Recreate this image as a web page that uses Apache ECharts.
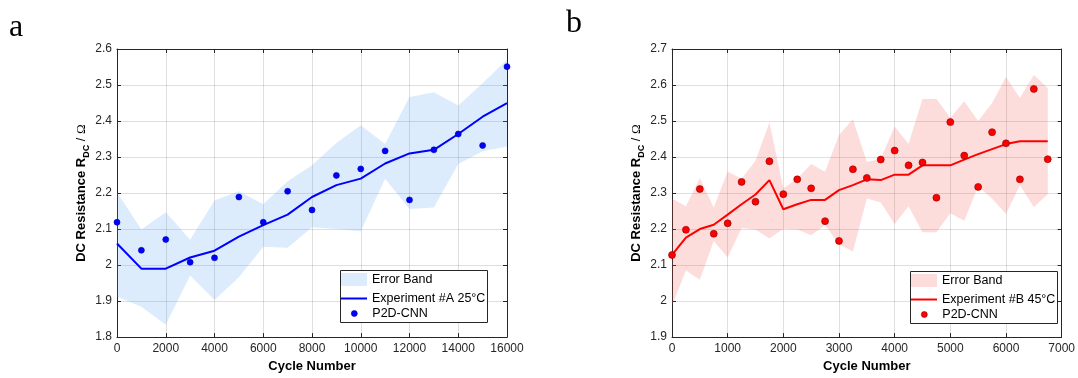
<!DOCTYPE html>
<html>
<head>
<meta charset="utf-8">
<script src="https://cdn.jsdelivr.net/npm/echarts@6/dist/echarts.min.js"></script>
<style>html,body{margin:0;padding:0;background:#fff;}#c{width:1078px;height:378px;}</style>
</head>
<body>
<div id="c"></div>
<script>
// ---- Panel a: Experiment #A 25°C ----
const cyclesA = [0,1000,2000,3000,4000,5000,6000,7000,8000,9000,10000,11000,12000,13000,14000,15000,16000];
const expA    = [2.06,1.99,1.99,2.021,2.04,2.079,2.111,2.14,2.189,2.222,2.24,2.282,2.31,2.32,2.364,2.412,2.45];
const cnnA    = [2.119,2.041,2.071,2.008,2.02,2.189,2.119,2.205,2.153,2.249,2.267,2.317,2.181,2.32,2.364,2.332,2.551];
const bandUpA = [2.202,2.099,2.147,2.07,2.179,2.205,2.169,2.233,2.277,2.339,2.388,2.336,2.467,2.48,2.443,2.505,2.571];
const bandLoA = [1.913,1.884,1.834,1.971,1.903,1.966,2.051,2.048,2.105,2.10,2.094,2.24,2.156,2.16,2.281,2.316,2.329];

// ---- Panel b: Experiment #B 45°C ----
const cyclesB = [0,250,500,750,1000,1250,1500,1750,2000,2250,2500,2750,3000,3250,3500,3750,4000,4250,4500,4750,5000,5250,5500,5750,6000,6250,6500,6750];
const expB    = [2.128,2.176,2.2,2.212,2.24,2.269,2.296,2.336,2.255,2.269,2.281,2.281,2.308,2.322,2.338,2.336,2.351,2.351,2.377,2.377,2.377,2.393,2.408,2.422,2.436,2.444,2.444,2.444];
const cnnB    = [2.128,2.198,2.311,2.187,2.216,2.331,2.276,2.388,2.297,2.338,2.313,2.222,2.167,2.366,2.342,2.393,2.418,2.377,2.385,2.287,2.497,2.404,2.317,2.469,2.438,2.338,2.589,2.394];
const bandUpB = [2.285,2.263,2.342,2.26,2.36,2.34,2.39,2.496,2.313,2.34,2.381,2.359,2.461,2.505,2.386,2.395,2.485,2.436,2.561,2.561,2.509,2.555,2.5,2.55,2.622,2.564,2.628,2.592];
const bandLoB = [1.987,2.085,2.059,2.167,2.121,2.203,2.199,2.174,2.201,2.199,2.183,2.211,2.158,2.138,2.285,2.274,2.214,2.263,2.191,2.191,2.244,2.223,2.318,2.285,2.242,2.322,2.261,2.297];

// ticks / labels
const xTicksA = {min:0, max:16000, interval:2000};
const yTicksA = {min:1.8, max:2.6, interval:0.1};
const xTicksB = {min:0, max:7000, interval:1000};
const yTicksB = {min:1.9, max:2.7, interval:0.1};
const legendA = ['Error Band','Experiment #A 25°C','P2D-CNN'];
const legendB = ['Error Band','Experiment #B 45°C','P2D-CNN'];
const xTitle = 'Cycle Number';

const AX = '#262626';
const FONT = 'Liberation Sans';
const bandColA = 'rgba(80,160,245,0.2)';
const bandColB = 'rgba(245,80,80,0.2)';
const DOT_ICON = 'path://M3,0A3,3,0,1,1,3,6A3,3,0,1,1,3,0Z';

function fmtY(v) { return String(Math.round(v*10)/10); }

function xAxes(g, t) {
  return [
    {type:'value', gridIndex:g, position:'bottom', min:t.min, max:t.max, interval:t.interval,
     name:xTitle, nameLocation:'middle', nameGap:21,
     nameTextStyle:{fontFamily:FONT, fontWeight:'bold', fontSize:13, color:'#000'},
     axisLine:{onZero:false, lineStyle:{color:AX, width:1}},
     axisTick:{inside:true, length:4, lineStyle:{color:AX}},
     axisLabel:{margin:6, fontFamily:FONT, fontSize:12, color:AX, formatter:(v)=>String(v)},
     splitLine:{show:true, lineStyle:{color:'rgba(38,38,38,0.15)', width:1}}},
    {type:'value', gridIndex:g, position:'top', min:t.min, max:t.max, interval:t.interval,
     axisLine:{onZero:false, lineStyle:{color:AX, width:1}},
     axisTick:{inside:true, length:4, lineStyle:{color:AX}},
     axisLabel:{show:false}, splitLine:{show:false}}
  ];
}
function yAxes(g, t) {
  return [
    {type:'value', gridIndex:g, position:'left', min:t.min, max:t.max, interval:t.interval,
     name:'{t|DC Resistance R}{s|DC}{n| / }{o|Ω}', nameLocation:'middle', nameGap:24, nameRotate:90,
     nameTextStyle:{rich:{
       t:{fontFamily:FONT, fontWeight:'bold', fontSize:13, color:'#000', lineHeight:20},
       s:{fontFamily:FONT, fontWeight:'bold', fontSize:9, color:'#000', lineHeight:13, verticalAlign:'bottom'},
       n:{fontFamily:FONT, fontSize:13, color:'#000', lineHeight:20},
       o:{fontFamily:'Liberation Serif', fontSize:13, color:'#000', lineHeight:20}
     }},
     axisLine:{onZero:false, lineStyle:{color:AX, width:1}},
     axisTick:{inside:true, length:4, lineStyle:{color:AX}},
     axisLabel:{margin:5, fontFamily:FONT, fontSize:12, color:AX, formatter:fmtY},
     splitLine:{show:true, lineStyle:{color:'rgba(38,38,38,0.15)', width:1}}},
    {type:'value', gridIndex:g, position:'right', min:t.min, max:t.max, interval:t.interval,
     axisLine:{onZero:false, lineStyle:{color:AX, width:1}},
     axisTick:{inside:true, length:4, lineStyle:{color:AX}},
     axisLabel:{show:false}, splitLine:{show:false}}
  ];
}

function bandSeries(name, xi, yi, xs, lo, up, col) {
  return {
    type:'custom', name:name, xAxisIndex:xi, yAxisIndex:yi, z:1,
    itemStyle:{color:col}, silent:true,
    data: xs.map((c,i)=>[c, lo[i], up[i]]),
    encode:{x:0, y:[1,2]},
    renderItem:function(params, api){
      if (params.dataIndex !== 0) return null;
      const pts = [];
      for (let i=0;i<xs.length;i++) pts.push(api.coord([xs[i], up[i]]));
      for (let i=xs.length-1;i>=0;i--) pts.push(api.coord([xs[i], lo[i]]));
      return {type:'polygon', shape:{points:pts}, style:{fill:col, stroke:null}};
    }
  };
}

function legends(names, left, top, band, lineCol, dotCol, dotBorder) {
  const ts = {fontFamily:FONT, fontSize:12.5, color:'#000'};
  return [
    {left:left, top:top, padding:0, itemWidth:26, itemHeight:13, itemGap:0, selectedMode:false, textStyle:ts,
     data:[{name:names[0], icon:'rect', itemStyle:{color:band, borderWidth:0}}]},
    {left:left, top:top+19, padding:0, itemWidth:26, itemHeight:2, itemGap:0, selectedMode:false, textStyle:ts,
     data:[{name:names[1], icon:'rect', itemStyle:{color:lineCol, borderWidth:0}}]},
    {left:left+10, top:top+34, padding:0, itemWidth:26, itemHeight:6, itemGap:0, selectedMode:false, textStyle:ts,
     data:[{name:names[2], icon:DOT_ICON, itemStyle:{color:dotCol, borderColor:dotBorder, borderWidth:0.6, opacity:1}}]}
  ];
}

const chart = echarts.init(document.getElementById('c'), null, {renderer:'canvas'});
const option = {
  animation:false,
  backgroundColor:'#fff',
  grid:[
    {left:117, top:49, width:390, height:292, show:false},
    {left:672, top:49, width:390, height:292, show:false}
  ],
  xAxis:[...xAxes(0, xTicksA), ...xAxes(1, xTicksB)],
  yAxis:[...yAxes(0, yTicksA), ...yAxes(1, yTicksB)],
  legend:[
    ...legends(legendA, 341, 273, bandColA, '#0000ff', '#0000ff', '#0000aa'),
    ...legends(legendB, 911, 274, bandColB, '#ff0000', '#ff0000', '#8b0000')
  ],
  graphic:[
    {type:'rect', z:3, shape:{x:340.5, y:270.5, width:147, height:52}, style:{fill:'#fff', stroke:AX, lineWidth:1}},
    {type:'rect', z:3, shape:{x:910.5, y:271.5, width:147, height:52}, style:{fill:'#fff', stroke:AX, lineWidth:1}},
    {type:'text', left:9, top:12, style:{text:'a', font:'32px "Liberation Serif"', fill:'#000'}},
    {type:'text', left:566, top:8, style:{text:'b', font:'32px "Liberation Serif"', fill:'#000'}}
  ],
  series:[
    bandSeries(legendA[0], 0, 0, cyclesA, bandLoA, bandUpA, bandColA),
    {type:'line', name:legendA[1], xAxisIndex:0, yAxisIndex:0, z:2, symbol:'none',
     lineStyle:{color:'#0000ff', width:2}, itemStyle:{color:'#0000ff'},
     data:cyclesA.map((c,i)=>[c, expA[i]])},
    {type:'scatter', name:legendA[2], xAxisIndex:0, yAxisIndex:0, z:3, symbolSize:6,
     itemStyle:{color:'#0000ff', borderColor:'#0000aa', borderWidth:0.6, opacity:1},
     data:cyclesA.map((c,i)=>[c, cnnA[i]])},
    bandSeries(legendB[0], 2, 2, cyclesB, bandLoB, bandUpB, bandColB),
    {type:'line', name:legendB[1], xAxisIndex:2, yAxisIndex:2, z:2, symbol:'none',
     lineStyle:{color:'#ff0000', width:2}, itemStyle:{color:'#ff0000'},
     data:cyclesB.map((c,i)=>[c, expB[i]])},
    {type:'scatter', name:legendB[2], xAxisIndex:2, yAxisIndex:2, z:3, symbolSize:7,
     itemStyle:{color:'#ff0000', borderColor:'#8b0000', borderWidth:0.6, opacity:1},
     data:cyclesB.map((c,i)=>[c, cnnB[i]])}
  ]
};
chart.setOption(option);
</script>
</body>
</html>
